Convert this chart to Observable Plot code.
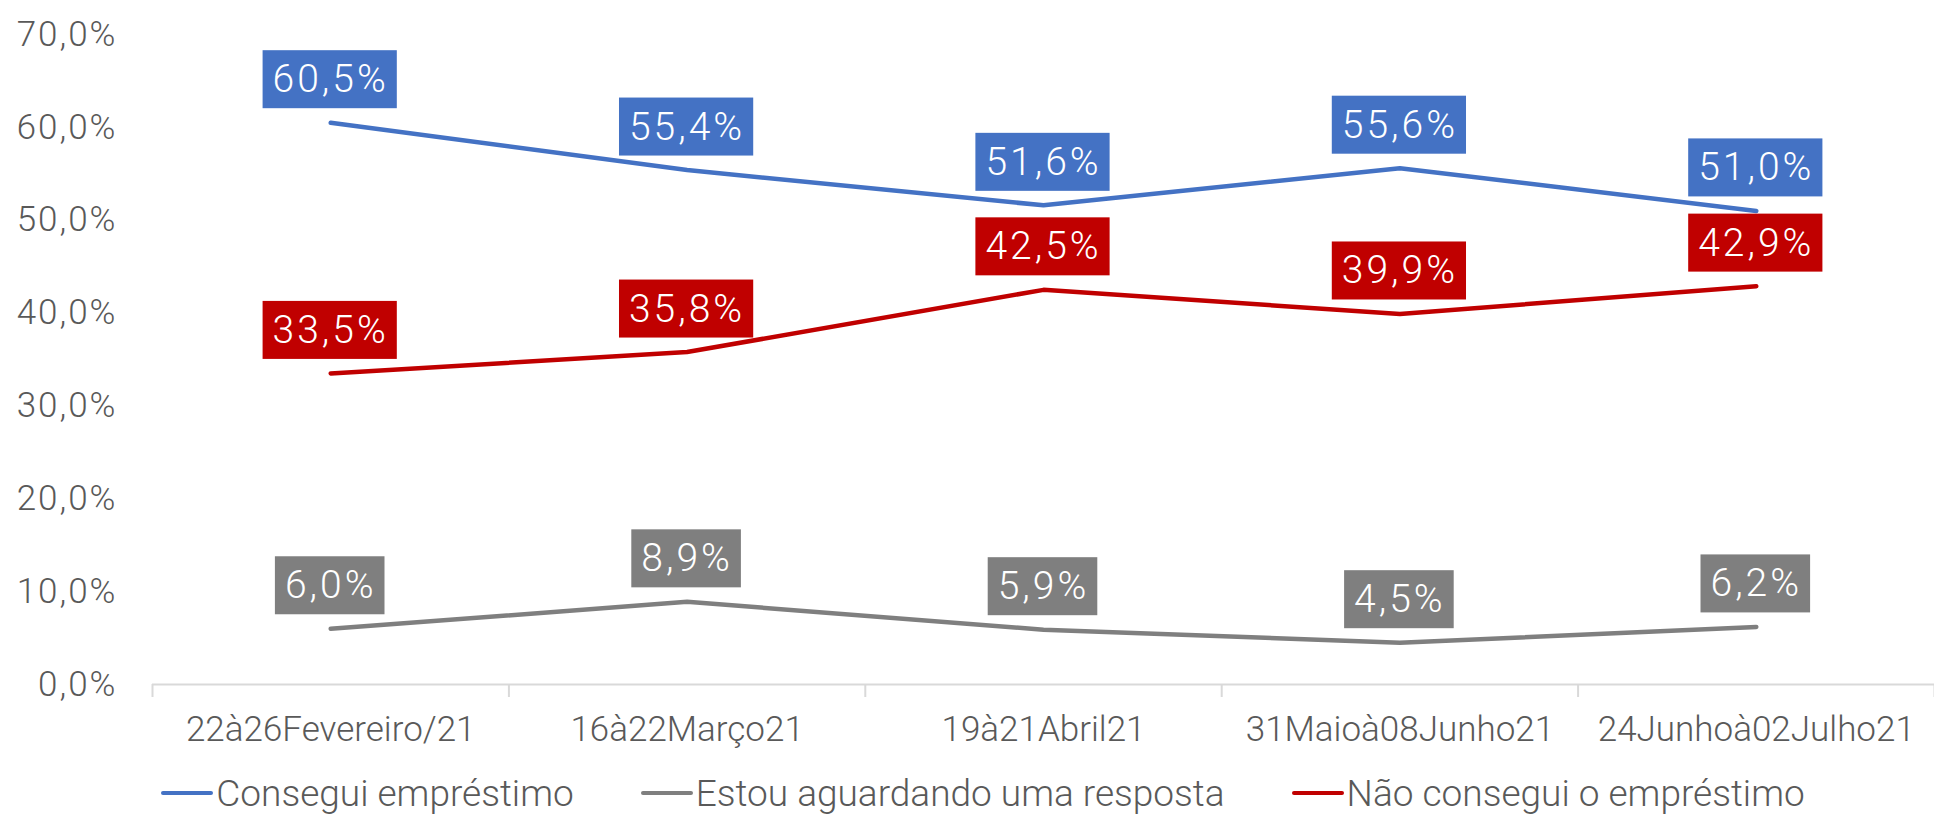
<!DOCTYPE html>
<html><head><meta charset="utf-8">
<script src="https://cdn.jsdelivr.net/npm/d3@7"></script>
<script src="https://cdn.jsdelivr.net/npm/@observablehq/plot@0.6"></script>
<style>
html,body{margin:0;padding:0;background:#fff;overflow:hidden;}
#chart svg{display:block;}
#legend{display:flex;justify-content:center;align-items:center;gap:67px;height:66px;padding-left:32px;box-sizing:border-box;
  font-family:Roboto,sans-serif;font-weight:300;font-size:37px;color:#595959;white-space:nowrap;}
#legend .item{display:flex;align-items:center;}
#legend .sw{width:52px;height:4.5px;border-radius:2px;margin-right:3px;}
</style></head><body>
<div id="chart"></div>
<div id="legend"></div>
<script>
const categories = ["22à26Fevereiro/21","16à22Março21","19à21Abril21","31Maioà08Junho21","24Junhoà02Julho21"];
const seriesNames = ["Consegui empréstimo","Estou aguardando uma resposta","Não consegui o empréstimo"];
const seriesColors = ["#4472C4","#7F7F7F","#C00000"];
const consegui = [60.5, 55.4, 51.6, 55.6, 51.0];
const aguardando = [6.0, 8.9, 5.9, 4.5, 6.2];
const naoConsegui = [33.5, 35.8, 42.5, 39.9, 42.9];
const yTicks = [0, 10, 20, 30, 40, 50, 60, 70];

const seriesValues = [consegui, aguardando, naoConsegui];
const rows = [];
seriesValues.forEach((vals, s) => vals.forEach((v, i) => rows.push({series: seriesNames[s], color: seriesColors[s], x: i + 0.5, value: v})));
const fmt = v => v.toFixed(1).replace(".", ",") + "%";

const plot = Plot.plot({
  width: 1934, height: 760,
  marginLeft: 152, marginRight: 0, marginTop: 34, marginBottom: 76,
  style: {fontFamily: "Roboto, sans-serif", fontWeight: 300, background: "transparent", overflow: "visible"},
  x: {domain: [0, categories.length], label: null},
  y: {domain: [0, 70], label: null},
  color: {domain: seriesNames, range: seriesColors},
  marks: [
    Plot.ruleY([0], {stroke: "#d9d9d9", strokeWidth: 2}),
    Plot.axisX(d3.range(categories.length + 1), {tickSize: 13, tickFormat: () => "", label: null, stroke: "#d9d9d9", strokeWidth: 2}),
    Plot.axisX(categories.map((c, i) => i + 0.5), {tickSize: 0, tickPadding: 32, label: null, tickFormat: d => categories[Math.floor(d)], fontSize: 35, fill: "#595959"}),
    Plot.axisY(yTicks, {tickSize: 0, tickPadding: 35, label: null, tickFormat: fmt, fontSize: 35, fill: "#595959"}),
    Plot.line(rows, {x: "x", y: "value", z: "series", stroke: "series", strokeWidth: 4.5, strokeLinecap: "round", strokeLinejoin: "round"}),
    Plot.text(rows, {x: "x", y: "value", text: d => fmt(d.value), dy: -43, fill: "white", fontSize: 39})
  ]
});
document.getElementById("chart").append(plot);

// y tick label letter spacing
plot.querySelectorAll('g[aria-label="y-axis tick label"] text').forEach(t => t.setAttribute("letter-spacing", "2"));

// background boxes behind value labels
const texts = plot.querySelectorAll('g[aria-label="text"] text');
texts.forEach((t, k) => {
  t.setAttribute("letter-spacing", "3");
  const b = t.getBBox();
  const r = document.createElementNS("http://www.w3.org/2000/svg", "rect");
  const cy = b.y + b.height / 2;
  r.setAttribute("x", b.x - 10);
  r.setAttribute("width", b.width + 18);
  r.setAttribute("y", cy - 29);
  r.setAttribute("height", 58);
  r.setAttribute("fill", rows[k].color);
  if (t.getAttribute("transform")) r.setAttribute("transform", t.getAttribute("transform"));
  t.parentNode.insertBefore(r, t);
});

// legend
const legend = document.getElementById("legend");
seriesNames.forEach((name, s) => {
  const item = document.createElement("div");
  item.className = "item";
  const sw = document.createElement("span");
  sw.className = "sw";
  sw.style.background = seriesColors[s];
  const label = document.createElement("span");
  label.textContent = name;
  item.append(sw, label);
  legend.append(item);
});
</script>
</body></html>
